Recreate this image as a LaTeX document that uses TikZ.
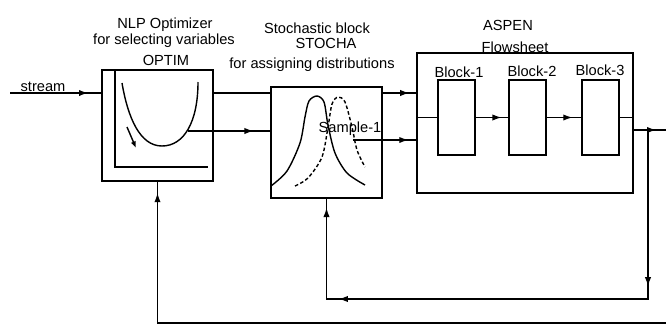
\documentclass[tikz,border=0pt]{standalone}
\usepackage{fontspec}
\setmainfont{Liberation Sans}
\usetikzlibrary{arrows.meta,decorations.markings}

\tikzset{
  box/.style={draw,line width=1.4pt,inner sep=0pt},
  wire/.style={line width=1.2pt},
  lbl/.style={font=\fontsize{12.5}{14}\selectfont,anchor=base,inner sep=0pt},
  tipat/.style={postaction={decorate,decoration={markings,
      mark=at position #1 with {\arrow{Latex[length=2.8mm,width=1.9mm]}}}}},
}

\begin{document}
\begin{tikzpicture}[x=0.03cm,y=-0.03cm]
\useasboundingbox (0,0) rectangle (666,327);
% blocks
\node[box,minimum width=3.33cm,minimum height=3.33cm] (optim) at (157.5,125.5) {};
\node[box,minimum width=3.33cm,minimum height=3.33cm] (stocha) at (326.5,142.5) {};
\node[box,minimum width=6.48cm,minimum height=4.2cm] (aspen) at (525,123) {};
\node[box,minimum width=1.11cm,minimum height=2.25cm] (blk1) at (456.5,117.5) {};
\node[box,minimum width=1.11cm,minimum height=2.25cm] (blk2) at (527.5,117.5) {};
\node[box,minimum width=1.11cm,minimum height=2.25cm] (blk3) at (600.5,117.5) {};
% labels
\node[lbl] (tstream) at (43,91) {stream};
\node[lbl] (tnlp) at (165,28) {NLP Optimizer};
\node[lbl] (tsel) at (164,44) {for selecting variables};
\node[lbl] (toptim) at (166,65) {OPTIM};
\node[lbl] (tsto) at (317,33) {Stochastic block};
\node[lbl] (tstocha) at (326,48) {STOCHA};
\node[lbl] (tassign) at (312,68) {for assigning distributions};
\node[lbl] (taspen) at (508,30) {ASPEN};
\node[lbl] (tflow) at (515,52) {Flowsheet};
\node[lbl] (tb1) at (459,77) {Block-1};
\node[lbl] (tb2) at (532,76) {Block-2};
\node[lbl] (tb3) at (600,75) {Block-3};
\node[lbl] (tsample) at (350,132) {Sample-1};
% optimizer sketch
\draw[wire] (115,70) -- (115,167) -- (208,167);
\draw[wire] (122,83) .. controls (128,118) and (140,146) .. (162,146)
            .. controls (184,146) and (198,122) .. (198,82);
\draw[wire,-{Latex[length=2mm,width=1.6mm]}] (127,127) -- (136,148);
% distributions
\draw[wire] plot[smooth] coordinates {(271,186) (287,171) (300,143) (305,117)
  (309,101) (317,96) (324,102) (328,125) (335,153) (347,173) (365,185)};
\draw[wire,dash pattern=on 3pt off 2pt] plot[smooth] coordinates {(295,186) (308,178)
  (322,157) (328,127) (332,104) (338,97) (345,102) (352,127) (357,150) (365,167)};
% points
\coordinate (src) at (10,93);
\coordinate (cmin) at (188,131);
\coordinate (smp) at (353,140);
\coordinate (split) at (648,130);
\coordinate (out) at (666,130);
\coordinate (fbl) at (326.5,299);
\coordinate (ret) at (666,323);
\coordinate (retl) at (157.5,323);
% connections
\draw[wire,line width=1.6pt,tipat=0.86] (src) -- (src -| optim.west);
\draw[wire] (optim.east |- src) -- (stocha.west |- src);
\draw[wire,tipat=0.8] (cmin) -- (cmin -| stocha.west);
\draw[wire,tipat=0.8] (stocha.east |- src) -- (aspen.west |- src);
\draw[wire,tipat=0.88] (smp) -- (smp -| aspen.west);
\draw[wire] (aspen.west |- blk1.west) -- (blk1.west);
\draw[wire,tipat=0.8] (blk1.east) -- (blk2.west);
\draw[wire,tipat=0.75] (blk2.east) -- (blk3.west);
\draw[wire] (blk3.east) -- (blk3.east -| aspen.east);
\draw[wire,tipat=0.7] (aspen.east |- out) -- (out);
\draw[wire,tipat=0.265,tipat=0.81,tipat=0.985] (split) |- (fbl) -- (stocha.south);
\draw[wire,tipat=0.983] (ret) -- (retl) -- (optim.south);
\end{tikzpicture}
\end{document}
